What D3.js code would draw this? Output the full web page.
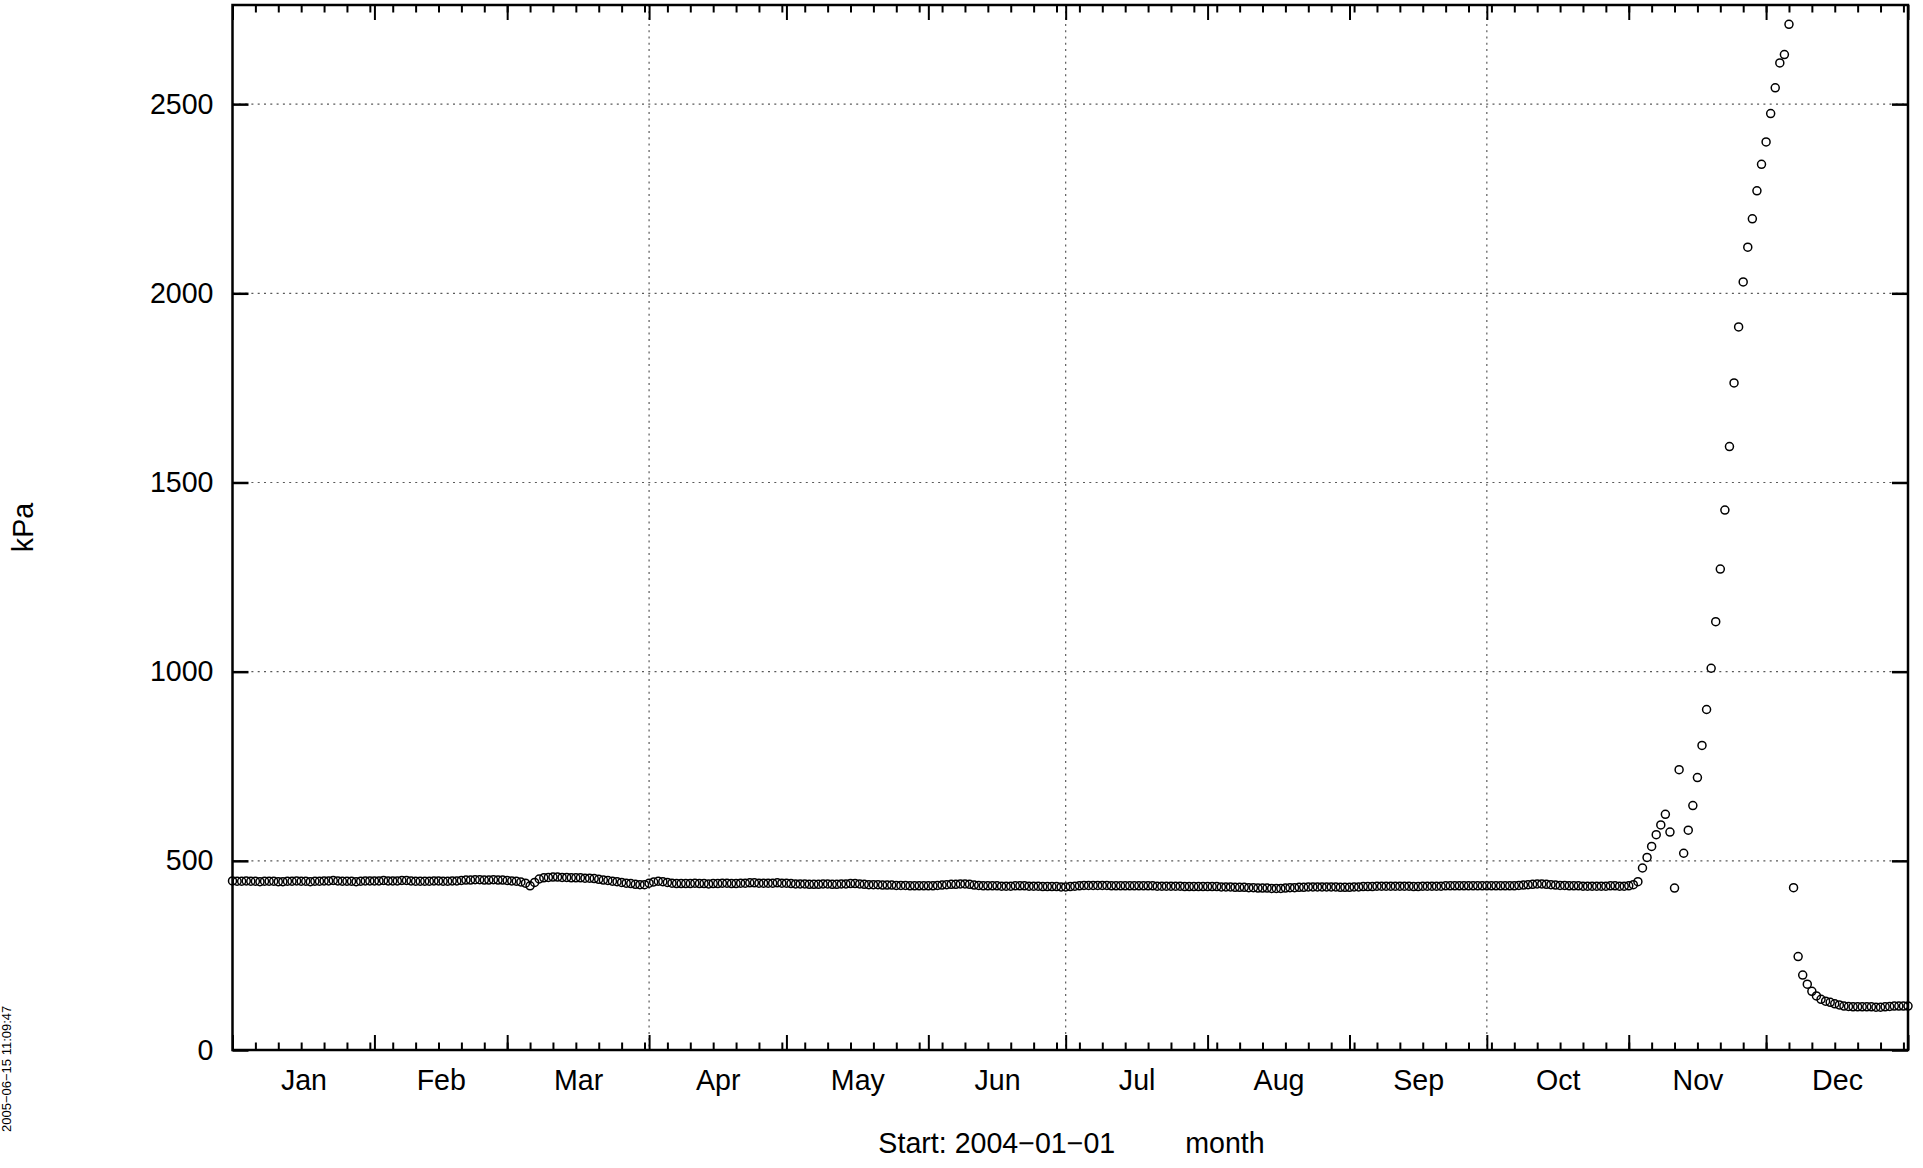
<!DOCTYPE html>
<html><head><meta charset="utf-8">
<script src="https://cdn.jsdelivr.net/npm/d3@7"></script>
<style>
html,body{margin:0;padding:0;background:#fff;}
svg{display:block;}
text{font-family:"Liberation Sans",Arial,Helvetica,sans-serif;fill:#000;}
</style></head><body>
<svg id="chart" width="1923" height="1168"></svg>
<script>
// ---- data ----
const startDate = "2004-01-01";
const endDate = "2005-01-01";
const monthLabels = ["Jan","Feb","Mar","Apr","May","Jun","Jul","Aug","Sep","Oct","Nov","Dec"];
const yTicks = [0, 500, 1000, 1500, 2000, 2500];
const yMax = 2762;
const gridDates = ["2004-04-01", "2004-07-01", "2004-10-01"];
const minorTickStepDays = 5;
const yLabel = "kPa";
const xLabelLeft = "Start: 2004\u221201\u221201";
const xLabelRight = "month";
const timestamp = "2005\u221206\u221215 11:09:47";

// daily values (kPa), 2004-01-01 .. 2005-01-01
const janValues = [447,446,446,447,446,446,445,446,446,446,445,445,446,446,447,446,446,445,446,446,447,447,448,447,446,446,446,445,446,447,447];
const febValues = [447,447,448,447,447,447,448,448,447,446,446,446,446,447,447,446,446,447,447,448,449,449,450,450,449,449,450,449,449];
const marValues = [448,447,446,444,441,434,443,452,455,456,457,457,456,456,455,455,455,454,454,453,451,449,448,446,445,443,441,440,438,437,437];
const aprValues = [441,444,446,445,443,441,440,440,440,440,441,440,440,439,440,440,441,441,440,440,441,441,442,442,441,441,441,441,442,441];
const mayValues = [441,440,439,439,439,438,438,438,439,439,438,438,439,439,440,440,439,438,437,437,437,436,436,436,435,435,435,434,434,434,434];
const junValues = [434,434,435,436,437,438,438,439,439,438,436,435,434,434,434,434,433,433,433,434,434,434,433,433,433,432,432,432,432,431];
const julValues = [431,432,433,434,435,435,435,435,435,435,434,434,434,434,434,434,434,434,434,434,433,433,433,433,433,433,432,432,432,432,432];
const augValues = [432,432,432,431,431,431,430,430,430,429,429,428,428,428,427,427,427,428,429,429,430,430,431,431,431,431,431,431,431,430,430];
const sepValues = [430,431,431,432,432,432,433,433,433,433,433,433,433,433,432,432,433,433,433,433,433,434,434,434,434,434,434,434,434,434];
const octValues = [434,434,434,434,434,434,434,435,436,437,438,439,439,438,437,436,435,435,434,434,434,433,433,433,433,433,433,434,434,433,433];
const novValues = [434,437,445,481,509,538,569,595,623,576,428,741,520,581,646,720,805,900,1009,1132,1271,1427,1595,1763,1911,2030,2122,2197,2271,2341];
const decValues = [2400,2475,2543,2609,2631,2711,429,247,198,174,155,143,134,129,126,122,119,116,115,114,114,114,114,114,113,113,114,115,116,116,116];
const jan2005Values = [116];

const values = [].concat(janValues, febValues, marValues, aprValues, mayValues, junValues,
  julValues, augValues, sepValues, octValues, novValues, decValues, jan2005Values);

// ---- layout ----
const plotLeft = 232.5, plotRight = 1908, plotTop = 5, plotBottom = 1050;
const fontSize = 28.6;

const svg = d3.select("#chart");
const parseDay = d3.utcParse("%Y-%m-%d");
const start = parseDay(startDate), end = parseDay(endDate);
const dates = d3.utcDay.range(start, d3.utcDay.offset(end, 1));
const data = dates.map((d, i) => ({date: d, value: values[i]}));

const x = d3.scaleUtc().domain([start, end]).range([plotLeft, plotRight]);
const y = d3.scaleLinear().domain([0, yMax]).range([plotBottom, plotTop]);

// grid
const gridG = svg.append("g").attr("class", "grid")
  .attr("stroke", "#5a5a5a").attr("stroke-width", 1.2).attr("stroke-dasharray", "2,4.3").attr("fill", "none");
yTicks.filter(v => v > 0).forEach(v => {
  gridG.append("line").attr("x1", plotLeft).attr("x2", plotRight).attr("y1", y(v)).attr("y2", y(v));
});
gridDates.map(parseDay).forEach(d => {
  gridG.append("line").attr("x1", x(d)).attr("x2", x(d)).attr("y1", plotTop).attr("y2", plotBottom);
});

// ticks
const monthStarts = d3.utcMonth.range(start, d3.utcDay.offset(end, 1));
const minorTicks = d3.range(minorTickStepDays, 366, minorTickStepDays).map(k => d3.utcDay.offset(start, k));
const monthMids = d3.utcMonth.range(start, end).map(m => new Date((m.getTime() + d3.utcMonth.offset(m, 1).getTime()) / 2));

function styleAxis(g, sw) {
  g.select(".domain").remove();
  g.selectAll(".tick line").attr("stroke", "#000").attr("stroke-width", sw);
  g.attr("font-family", null).attr("font-size", null);
  g.selectAll("text").attr("font-size", fontSize).attr("fill", "#000");
}

svg.append("g").attr("transform", `translate(0,${plotBottom})`)
  .call(d3.axisBottom(x).tickValues(minorTicks).tickSize(-7.5).tickFormat(""))
  .call(g => styleAxis(g, 2));
svg.append("g").attr("transform", `translate(0,${plotBottom})`)
  .call(d3.axisBottom(x).tickValues(monthStarts).tickSize(-15).tickFormat(""))
  .call(g => styleAxis(g, 2));
svg.append("g").attr("transform", `translate(0,${plotTop})`)
  .call(d3.axisTop(x).tickValues(minorTicks).tickSize(-7.5).tickFormat(""))
  .call(g => styleAxis(g, 2));
svg.append("g").attr("transform", `translate(0,${plotTop})`)
  .call(d3.axisTop(x).tickValues(monthStarts).tickSize(-15).tickFormat(""))
  .call(g => styleAxis(g, 2));
// month labels
svg.append("g").attr("transform", `translate(0,${plotBottom})`)
  .call(d3.axisBottom(x).tickValues(monthMids).tickSize(0).tickPadding(19.5).tickFormat((d, i) => monthLabels[i]))
  .call(g => styleAxis(g, 0));

svg.append("g").attr("transform", `translate(${plotLeft},0)`)
  .call(d3.axisLeft(y).tickValues(yTicks).tickSize(-16).tickPadding(19).tickFormat(d3.format("d")))
  .call(g => styleAxis(g, 2.5));
svg.append("g").attr("transform", `translate(${plotRight},0)`)
  .call(d3.axisRight(y).tickValues(yTicks).tickSize(-16).tickFormat(""))
  .call(g => styleAxis(g, 2.5));

// points
svg.append("g").attr("fill", "none").attr("stroke", "#000").attr("stroke-width", 1.5)
  .selectAll("circle").data(data).join("circle")
  .attr("cx", d => x(d.date)).attr("cy", d => y(d.value)).attr("r", 4);

// frame
svg.append("rect").attr("x", plotLeft).attr("y", plotTop)
  .attr("width", plotRight - plotLeft).attr("height", plotBottom - plotTop)
  .attr("fill", "none").attr("stroke", "#000").attr("stroke-width", 2.5);

// labels
const cx = (plotLeft + plotRight) / 2;
svg.append("text").attr("x", cx + 45).attr("y", 1153).attr("text-anchor", "end")
  .attr("font-size", fontSize).text(xLabelLeft);
svg.append("text").attr("x", cx + 115).attr("y", 1153).attr("text-anchor", "start")
  .attr("font-size", fontSize).text(xLabelRight);
svg.append("text").attr("transform", `translate(33,${(plotTop + plotBottom) / 2}) rotate(-90)`)
  .attr("text-anchor", "middle").attr("font-size", fontSize).text(yLabel);
svg.append("text").attr("transform", `translate(11,1132) rotate(-90)`)
  .attr("text-anchor", "start").attr("font-size", 13).text(timestamp);
</script>
</body></html>
